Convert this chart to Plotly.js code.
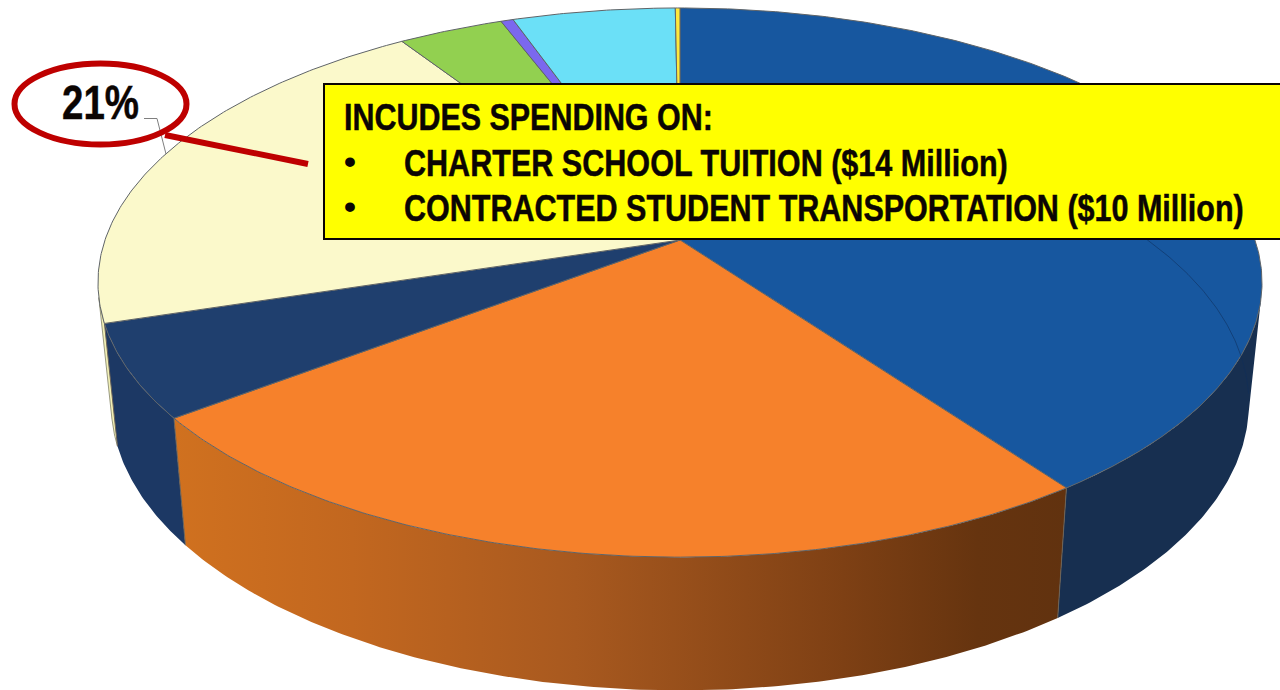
<!DOCTYPE html>
<html>
<head>
<meta charset="utf-8">
<script src="https://cdn.plot.ly/plotly-3.0.1.min.js"></script>
<style>html,body{margin:0;padding:0;background:#fff}#chart{width:1280px;height:690px}</style>
</head>
<body>
<div id="chart"></div>
<script>
// Slice shares in percent, clockwise from twelve o'clock
const sliceShares = [40, 24.7, 5.5, 20.6, 3.4, 0.4, 5.25, 0.15];
const topColors = ['#17579F', '#F6812B', '#1F3F6E', '#FBF9CB', '#92D050', '#7B68EE', '#6BE0F7', '#FFE83C'];
const sideColors = ['#172F50', '#C06520', '#1C3864', '#F1EFB4', '#92D050', '#7B68EE', '#6BE0F7', '#FFE83C'];
const labelText = '21%';
const calloutHeading = 'INCUDES SPENDING ON:';
const calloutItems = ['CHARTER SCHOOL TUITION ($14 Million)', 'CONTRACTED STUDENT TRANSPORTATION ($10 Million)'];

// Projection of the pie disc on to the page (perspective)
const persp = 0.155, cx = 680;
const rimTop = {y0: 240, ax: 575, ay: 268};
const rimBottom = {y0: 359, ax: 562, ay: 280};
const frontFrom = 101, frontTo = 258;

function project(rim, deg) {
  const t = deg * Math.PI / 180, u = Math.sin(t), v = Math.cos(t), w = 1 + persp * v;
  return [cx + rim.ax * u / w, rim.y0 - rim.ay * v / w];
}
function arc(rim, a, b) {
  const n = Math.max(2, Math.ceil(Math.abs(b - a) / 0.5)), out = [];
  for (let i = 0; i <= n; i++) out.push(project(rim, a + (b - a) * i / n));
  return out;
}
const xs = p => p.map(q => q[0]), ys = p => p.map(q => q[1]);

const edges = [0];
sliceShares.forEach(s => edges.push(edges[edges.length - 1] + s * 3.6));

const traces = [];
const orangeGradient = [[0, '#D0711F'], [0.2, '#C2671F'], [0.45, '#A8591F'], [0.75, '#7E4014'], [0.9, '#66340F'], [1, '#61320F']];

// Side walls, back to front
[3, 2, 0, 1].forEach(i => {
  const a = Math.max(edges[i], frontFrom), b = Math.min(edges[i + 1], frontTo);
  if (b <= a) return;
  const poly = arc(rimTop, a, b).concat(arc(rimBottom, b, a));
  const tr = {x: xs(poly), y: ys(poly), mode: 'lines', fill: 'toself',
    line: i === 3 ? {width: 1, color: '#9a9a80'} : {width: 0, color: sideColors[i]},
    fillcolor: sideColors[i], hoverinfo: 'skip', showlegend: false};
  if (i === 1) tr.fillgradient = {type: 'horizontal', colorscale: orangeGradient};
  traces.push(tr);
});
// Wall seams at the slice boundaries
[1, 2, 3].forEach(k => {
  const p = project(rimTop, edges[k]), q = project(rimBottom, edges[k]);
  traces.push({x: [p[0], q[0]], y: [p[1], q[1]], mode: 'lines', line: {width: 1, color: '#6b6257'}, hoverinfo: 'skip', showlegend: false});
});
// Top faces
const apex = [cx, rimTop.y0];
sliceShares.forEach((s, i) => {
  const poly = [apex].concat(arc(rimTop, edges[i], edges[i + 1]), [apex]);
  traces.push({x: xs(poly), y: ys(poly), mode: 'lines', fill: 'toself', fillcolor: topColors[i],
    line: {width: 1, color: '#5f6468'}, hoverinfo: 'skip', showlegend: false, name: s + '%'});
});
// Lower rim showing faintly through the blue slice
const ghost = arc(rimBottom, 40, 97);
traces.push({x: xs(ghost), y: ys(ghost), mode: 'lines', line: {width: 1, color: 'rgba(15,45,90,0.55)'}, hoverinfo: 'skip', showlegend: false});

const textFont = (size) => ({family: '"Liberation Sans", Arial, sans-serif', size: size, color: '#0b0503', weight: 700});
const ann = (text, x, y, size) => ({text: text, x: x, y: y, xref: 'x', yref: 'y', showarrow: false,
  xanchor: 'left', yanchor: 'middle', font: textFont(size), align: 'left'});

const layout = {
  width: 1280, height: 690, margin: {l: 0, r: 0, t: 0, b: 0}, paper_bgcolor: '#fff', plot_bgcolor: '#fff', showlegend: false,
  xaxis: {range: [0, 1280], visible: false, fixedrange: true},
  yaxis: {range: [690, 0], visible: false, fixedrange: true},
  shapes: [
    {type: 'path', path: 'M144,118.5 L157,118.5 L166,154', line: {color: '#7f7f7f', width: 1}},
    {type: 'line', x0: 165, y0: 135, x1: 308, y1: 164, line: {color: '#BE0000', width: 6}},
    {type: 'circle', x0: 14.5, x1: 186.5, y0: 63.5, y1: 144.5, line: {color: '#BE0000', width: 6}},
    {type: 'rect', x0: 324, x1: 1290, y0: 84, y1: 239, fillcolor: '#FFFF00', line: {color: '#0b0503', width: 2}}
  ],
  annotations: [
    ann(labelText, 60, 102, 49),
    ann(calloutHeading, 342, 117, 37),
    ann('•', 342, 161, 34), ann(calloutItems[0], 402, 163, 37),
    ann('•', 342, 206, 34), ann(calloutItems[1], 402, 208, 37)
  ]
};
// The narrow face of the reference is not installed: condense the real text to its measured widths
const textWidths = {};
textWidths[labelText] = 77;
textWidths[calloutHeading] = 369;
textWidths[calloutItems[0]] = 604;
textWidths[calloutItems[1]] = 840;
Plotly.newPlot('chart', traces, layout, {displayModeBar: false, staticPlot: true}).then(() => {
  document.querySelectorAll('#chart .annotation-text').forEach(el => {
    const w = textWidths[el.textContent];
    if (!w) return;
    const natural = el.getComputedTextLength(), sx = w / natural, x0 = parseFloat(el.getAttribute('x')) || 0;
    el.setAttribute('transform', 'translate(' + (x0 * (1 - sx)) + ',0) scale(' + sx + ',1)');
    el.style.stroke = '#0b0503';
    el.style.strokeWidth = '0.5px';
  });
});
</script>
</body>
</html>
